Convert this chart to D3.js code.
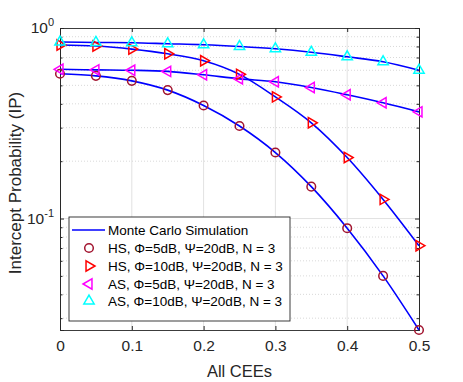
<!DOCTYPE html>
<html lang="en">
<head>
<meta charset="UTF-8">
<title>Intercept Probability</title>
<style>
  body { margin: 0; background: #fff; font-family: "Liberation Sans", Arial, sans-serif; }
  svg { display: block; }
</style>
</head>
<body>
<svg width="463" height="382"></svg>
<script src="https://d3js.org/d3.v7.min.js"></script>
<script>
  // all CEEs on the x axis
  const cees = [0, 0.05, 0.1, 0.15, 0.2, 0.25, 0.3, 0.35, 0.4, 0.45, 0.5];
  const hs5 = [0.575, 0.561, 0.528, 0.472, 0.392, 0.306, 0.222, 0.147, 0.089, 0.050, 0.026];
  const hs10 = [0.814, 0.804, 0.775, 0.732, 0.673, 0.571, 0.435, 0.318, 0.209, 0.126, 0.072];
  const as5 = [0.607, 0.603, 0.600, 0.592, 0.568, 0.541, 0.522, 0.487, 0.446, 0.405, 0.363];
  const as10 = [0.844, 0.840, 0.837, 0.827, 0.817, 0.800, 0.778, 0.746, 0.706, 0.665, 0.600];
  const xTicks = [0, 0.1, 0.2, 0.3, 0.4, 0.5];
  const yMajor = [1, 0.1];
  const yMinor = [0.03, 0.04, 0.05, 0.06, 0.07, 0.08, 0.09, 0.2, 0.3, 0.4, 0.5, 0.6, 0.7, 0.8, 0.9];

  const series = [
    { label: "HS, \u03A6=5dB, \u03A8=20dB, N = 3", values: hs5, color: "#a2142f", marker: "circle" },
    { label: "HS, \u03A6=10dB, \u03A8=20dB, N = 3", values: hs10, color: "#ff0000", marker: "right" },
    { label: "AS, \u03A6=5dB, \u03A8=20dB, N = 3", values: as5, color: "#ff00ff", marker: "left" },
    { label: "AS, \u03A6=10dB, \u03A8=20dB, N = 3", values: as10, color: "#00ffff", marker: "up" }
  ];

  const svg = d3.select("svg");
  const m = { left: 60, right: 419, top: 28, bottom: 330 };
  const x = d3.scaleLinear().domain([0, 0.5]).range([m.left, m.right]);
  const y = d3.scaleLog().domain([0.026, 1]).range([m.bottom, m.top]);
  const axisColor = "#262626";

  // grid
  const grid = svg.append("g");
  grid.selectAll("line.vx").data(xTicks.slice(1, -1)).join("line")
    .attr("x1", d => x(d)).attr("x2", d => x(d))
    .attr("y1", m.top).attr("y2", m.bottom)
    .attr("stroke", "#e2e2e2").attr("stroke-width", 1);
  grid.selectAll("line.hy").data(yMajor.slice(1)).join("line")
    .attr("x1", m.left).attr("x2", m.right)
    .attr("y1", d => y(d)).attr("y2", d => y(d))
    .attr("stroke", "#e2e2e2").attr("stroke-width", 1);
  grid.selectAll("line.my").data(yMinor).join("line")
    .attr("x1", m.left).attr("x2", m.right)
    .attr("y1", d => y(d)).attr("y2", d => y(d))
    .attr("stroke", "#cfcfcf").attr("stroke-width", 0.8)
    .attr("stroke-dasharray", "1,2");

  // axes (ticks on all four sides, MATLAB style)
  const fmt = () => "";
  svg.append("g").attr("transform", `translate(0,${m.bottom})`)
    .call(d3.axisBottom(x).tickValues(xTicks).tickSize(-4).tickFormat(d => d3.format("")(d)).tickPadding(10));
  svg.append("g").attr("transform", `translate(0,${m.top})`)
    .call(d3.axisTop(x).tickValues(xTicks).tickSize(-4).tickFormat(fmt));
  svg.append("g").attr("transform", `translate(${m.left},0)`)
    .call(d3.axisLeft(y).tickValues(yMajor).tickSize(-4).tickFormat(fmt));
  svg.append("g").attr("transform", `translate(${m.left},0)`)
    .call(d3.axisLeft(y).tickValues(yMinor).tickSize(-2.5).tickFormat(fmt));
  svg.append("g").attr("transform", `translate(${m.right},0)`)
    .call(d3.axisRight(y).tickValues(yMajor).tickSize(-4).tickFormat(fmt));
  svg.append("g").attr("transform", `translate(${m.right},0)`)
    .call(d3.axisRight(y).tickValues(yMinor).tickSize(-2.5).tickFormat(fmt));
  svg.selectAll(".domain").attr("stroke", axisColor).attr("stroke-width", 0.9);
  svg.selectAll(".tick line").attr("stroke", axisColor);
  svg.selectAll(".tick text").attr("fill", axisColor).attr("font-size", 15.5)
    .attr("font-family", "Liberation Sans, Arial, sans-serif");

  // y tick labels with exponents
  const ylab = svg.append("g").attr("fill", axisColor).attr("font-size", 15.5);
  yMajor.forEach(v => {
    const t = ylab.append("text").attr("x", 54).attr("y", y(v) + 5).attr("text-anchor", "end");
    t.append("tspan").text("10");
    t.append("tspan").attr("font-size", 11).attr("dy", -7).text(Math.round(Math.log10(v)));
  });

  // curves
  const line = d3.line().x((d, i) => x(cees[i])).y(d => y(d)).curve(d3.curveMonotoneX);
  series.forEach(s => {
    svg.append("path").attr("d", line(s.values))
      .attr("fill", "none").attr("stroke", "#0000ff").attr("stroke-width", 1.6);
  });

  // markers
  const tri = d3.symbol().type(d3.symbolTriangle).size(46);
  function marker(g, type, color) {
    if (type === "circle") {
      g.append("circle").attr("r", 4.3).attr("fill", "none").attr("stroke", color).attr("stroke-width", 1.5);
    } else {
      const rot = type === "right" ? 90 : type === "left" ? -90 : 0;
      g.append("path").attr("d", tri()).attr("transform", `rotate(${rot})`)
        .attr("fill", "none").attr("stroke", color).attr("stroke-width", 1.5);
    }
  }
  series.forEach(s => {
    s.values.forEach((v, i) => {
      const g = svg.append("g").attr("transform", `translate(${x(cees[i])},${y(v)})`);
      marker(g, s.marker, s.color);
    });
  });

  // legend
  const lg = svg.append("g");
  lg.append("rect").attr("x", 69).attr("y", 217).attr("width", 221).attr("height", 104)
    .attr("fill", "#fff").attr("stroke", axisColor).attr("stroke-width", 0.9);
  const rowY = [230, 248, 266, 284, 301];
  lg.append("line").attr("x1", 72).attr("x2", 105).attr("y1", rowY[0]).attr("y2", rowY[0])
    .attr("stroke", "#0000ff").attr("stroke-width", 1.6);
  lg.append("text").attr("x", 108).attr("y", rowY[0] + 5).attr("font-size", 13.5).attr("fill", "#000")
    .text("Monte Carlo Simulation");
  series.forEach((s, i) => {
    const g = lg.append("g").attr("transform", `translate(89,${rowY[i + 1]})`);
    marker(g, s.marker, s.color);
    lg.append("text").attr("x", 108).attr("y", rowY[i + 1] + 5).attr("font-size", 13.5).attr("fill", "#000")
      .text(s.label);
  });

  // axis titles
  svg.append("text").attr("x", (m.left + m.right) / 2).attr("y", 377).attr("text-anchor", "middle")
    .attr("font-size", 16.5).attr("fill", axisColor).text("All CEEs");
  svg.append("text").attr("transform", `translate(21,${(m.top + m.bottom) / 2 + 4}) rotate(-90)`)
    .attr("text-anchor", "middle").attr("font-size", 17).attr("fill", axisColor)
    .text("Intercept Probability (IP)");
</script>
</body>
</html>
